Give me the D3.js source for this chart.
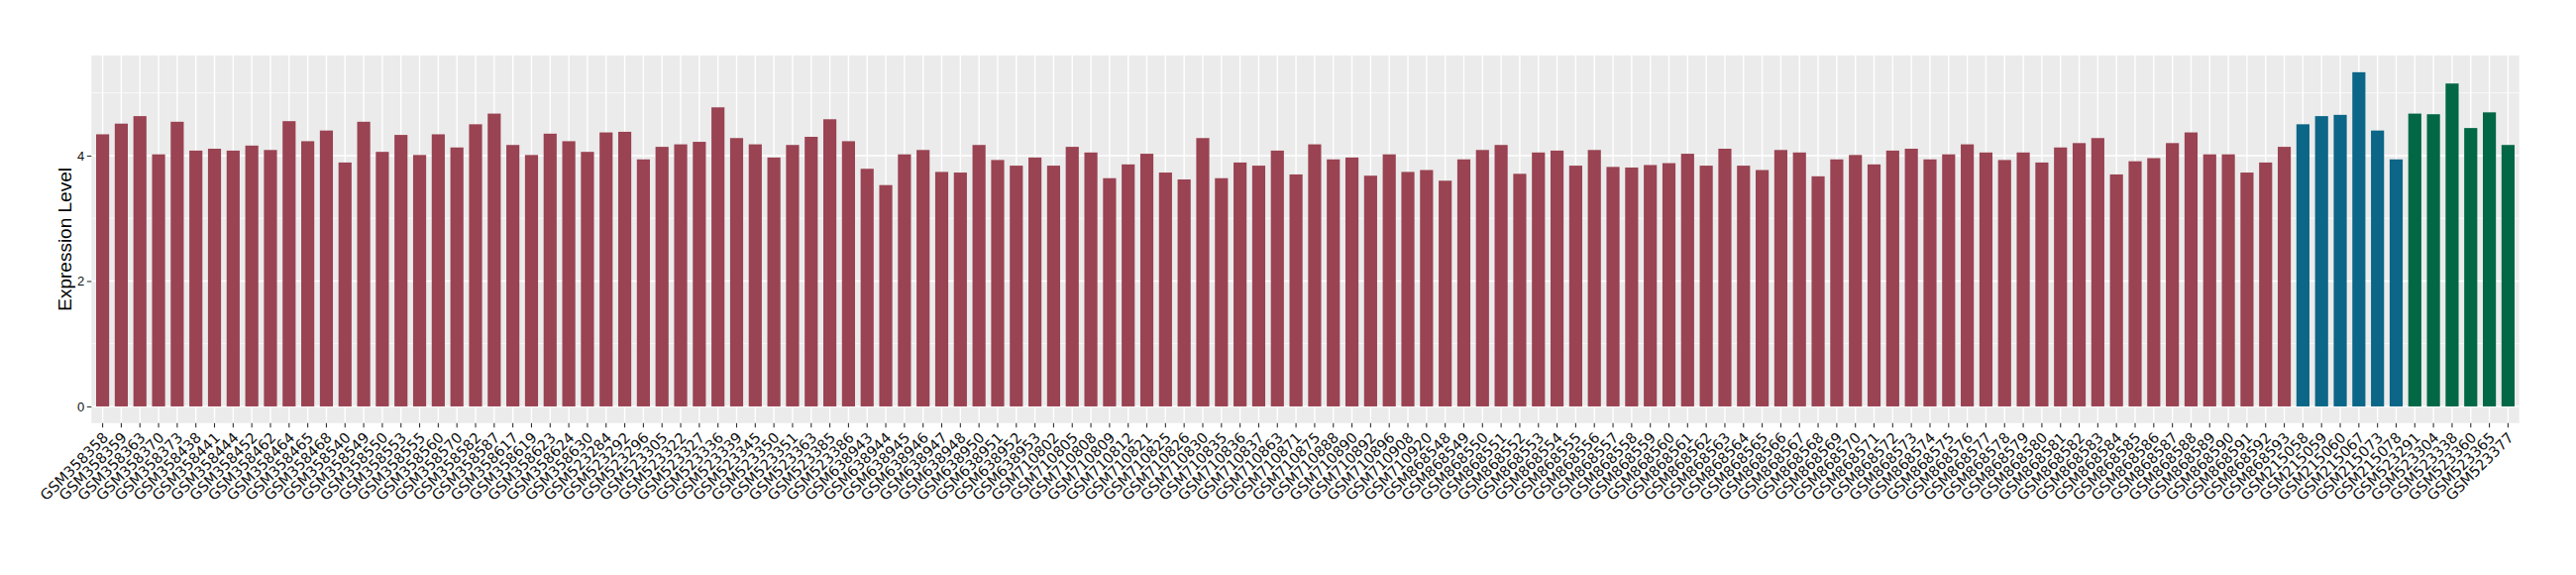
<!DOCTYPE html>
<html>
<head>
<meta charset="utf-8">
<script src="https://d3js.org/d3.v7.min.js"></script>
<style>
  body { margin: 0; background: #fff; }
  .ytick text { font-family: "Liberation Sans", Arial, sans-serif; font-size: 13px; fill: #111; }
  .xtick text { font-family: "DejaVu Sans", sans-serif; font-size: 14.7px; fill: #111; }
</style>
</head>
<body>
<svg id="chart" width="2600" height="580"></svg>

<script>

// samples in the first (red) group
var samplesA = [
  "GSM358358","GSM358359","GSM358363","GSM358370","GSM358373","GSM358438","GSM358441","GSM358444",
  "GSM358452","GSM358462","GSM358464","GSM358465","GSM358468","GSM358540","GSM358549","GSM358550",
  "GSM358553","GSM358555","GSM358560","GSM358570","GSM358582","GSM358587","GSM358617","GSM358619",
  "GSM358623","GSM358624","GSM358630",
  "GSM523284","GSM523292","GSM523296","GSM523305","GSM523322","GSM523327","GSM523336","GSM523339",
  "GSM523345","GSM523350","GSM523351","GSM523363","GSM523385","GSM523386",
  "GSM638943","GSM638944","GSM638945","GSM638946","GSM638947","GSM638948","GSM638950","GSM638951",
  "GSM638952","GSM638953",
  "GSM710802","GSM710805","GSM710808","GSM710809","GSM710812","GSM710821","GSM710825","GSM710826",
  "GSM710830","GSM710835","GSM710836","GSM710837","GSM710863","GSM710871","GSM710875","GSM710888",
  "GSM710890","GSM710892","GSM710896","GSM710908","GSM710920",
  "GSM868548","GSM868549","GSM868550","GSM868551","GSM868552","GSM868553","GSM868554","GSM868555",
  "GSM868556","GSM868557","GSM868558","GSM868559","GSM868560","GSM868561","GSM868562","GSM868563",
  "GSM868564","GSM868565","GSM868566","GSM868567","GSM868568","GSM868569","GSM868570","GSM868571",
  "GSM868572","GSM868573","GSM868574","GSM868575","GSM868576","GSM868577","GSM868578","GSM868579",
  "GSM868580","GSM868581","GSM868582","GSM868583","GSM868584","GSM868585","GSM868586","GSM868587",
  "GSM868588","GSM868589","GSM868590","GSM868591","GSM868592","GSM868593"
];
var valuesA = [
  4.34,4.51,4.63,4.02,4.54,4.08,4.11,4.08,
  4.16,4.09,4.55,4.23,4.40,3.89,4.54,4.06,
  4.33,4.01,4.34,4.13,4.50,4.67,4.17,4.01,
  4.35,4.23,4.06,
  4.37,4.38,3.94,4.14,4.18,4.22,4.77,4.28,
  4.18,3.97,4.17,4.30,4.58,4.23,
  3.79,3.53,4.02,4.09,3.74,3.73,4.17,3.93,
  3.84,3.97,
  3.84,4.14,4.05,3.64,3.86,4.03,3.73,3.62,
  4.28,3.64,3.89,3.84,4.08,3.70,4.18,3.94,
  3.97,3.68,4.02,3.74,3.77,
  3.60,3.94,4.09,4.17,3.71,4.05,4.08,3.84,
  4.09,3.82,3.81,3.85,3.88,4.03,3.84,4.11,
  3.84,3.77,4.09,4.05,3.67,3.94,4.01,3.86,
  4.08,4.11,3.94,4.02,4.18,4.05,3.93,4.05,
  3.89,4.13,4.20,4.28,3.70,3.91,3.96,4.20,
  4.37,4.02,4.02,3.73,3.89,4.14
];

// second (blue) group
var samplesB = ["GSM215058","GSM215059","GSM215060","GSM215067","GSM215073","GSM215078"];
var valuesB  = [4.50, 4.63, 4.65, 5.33, 4.40, 3.94];

// third (green) group
var samplesC = ["GSM523291","GSM523304","GSM523338","GSM523360","GSM523365","GSM523377"];
var valuesC  = [4.67, 4.66, 5.15, 4.44, 4.69, 4.17];

var yTicks = [0, 2, 4];
var yMinor = [1, 3, 5];

var groupColors = ["#9a4352", "#0b6687", "#016745"];

// one row per bar
var data = [];
[[samplesA, valuesA], [samplesB, valuesB], [samplesC, valuesC]].forEach(function(g, gi) {
  g[0].forEach(function(s, i) {
    data.push({ sample: s, value: g[1][i], group: gi });
  });
});

var panel = { left: 92.3, right: 2542.7, top: 56, bottom: 426.8 };

var svg = d3.select("#chart");

var x = d3.scaleBand()
  .domain(data.map(function(d) { return d.sample; }))
  .range([panel.left, panel.right])
  .paddingInner(0.3)
  .paddingOuter(0.25);

// ggplot style 5% expansion
var yMax = d3.max(data, function(d) { return d.value; });
var y = d3.scaleLinear()
  .domain([-0.05 * yMax, yMax * 1.05])
  .range([panel.bottom, panel.top]);

// panel background
svg.append("rect")
  .attr("x", panel.left).attr("y", panel.top)
  .attr("width", panel.right - panel.left)
  .attr("height", panel.bottom - panel.top)
  .attr("fill", "#ebebeb");

// gridlines
svg.append("g").selectAll("line")
  .data(yMinor)
  .enter().append("line")
  .attr("x1", panel.left).attr("x2", panel.right)
  .attr("y1", function(d) { return y(d); })
  .attr("y2", function(d) { return y(d); })
  .attr("stroke", "#fff").attr("stroke-width", 0.7);

svg.append("g").selectAll("line")
  .data(yTicks)
  .enter().append("line")
  .attr("x1", panel.left).attr("x2", panel.right)
  .attr("y1", function(d) { return y(d); })
  .attr("y2", function(d) { return y(d); })
  .attr("stroke", "#fff").attr("stroke-width", 1.4);

svg.append("g").selectAll("line")
  .data(x.domain())
  .enter().append("line")
  .attr("x1", function(d) { return x(d) + x.bandwidth() / 2; })
  .attr("x2", function(d) { return x(d) + x.bandwidth() / 2; })
  .attr("y1", panel.top).attr("y2", panel.bottom)
  .attr("stroke", "#fff").attr("stroke-width", 1.4);

// bars
svg.append("g").selectAll("rect")
  .data(data)
  .enter().append("rect")
  .attr("x", function(d) { return x(d.sample); })
  .attr("width", x.bandwidth())
  .attr("y", function(d) { return y(d.value); })
  .attr("height", function(d) { return y(0) - y(d.value); })
  .attr("fill", function(d) { return groupColors[d.group]; });

// y axis
var yAxis = d3.axisLeft(y)
  .tickValues(yTicks)
  .tickSize(4.5)
  .tickPadding(2.5)
  .tickFormat(d3.format("d"));

var gy = svg.append("g")
  .attr("class", "ytick")
  .attr("transform", "translate(" + panel.left + ",0)")
  .call(yAxis);
gy.select(".domain").remove();
gy.selectAll("line").attr("stroke", "#333").attr("stroke-width", 1.1);

// x axis
var xAxis = d3.axisBottom(x)
  .tickSize(4.5)
  .tickPadding(0);

var gx = svg.append("g")
  .attr("class", "xtick")
  .attr("transform", "translate(0," + panel.bottom + ")")
  .call(xAxis);
gx.select(".domain").remove();
gx.selectAll("line").attr("stroke", "#333").attr("stroke-width", 1.1);
gx.selectAll("text")
  .attr("text-anchor", "end")
  .attr("dy", null)
  .attr("y", null)
  .attr("transform", "translate(6.5,15.7) rotate(-45)");

// y title
svg.append("text")
  .attr("transform", "translate(72," + ((panel.top + panel.bottom) / 2) + ") rotate(-90)")
  .attr("text-anchor", "middle")
  .style("font-family", "'Liberation Sans', Arial, sans-serif")
  .style("font-size", "19px")
  .attr("fill", "#000")
  .text("Expression Level");

</script>
</body>
</html>
